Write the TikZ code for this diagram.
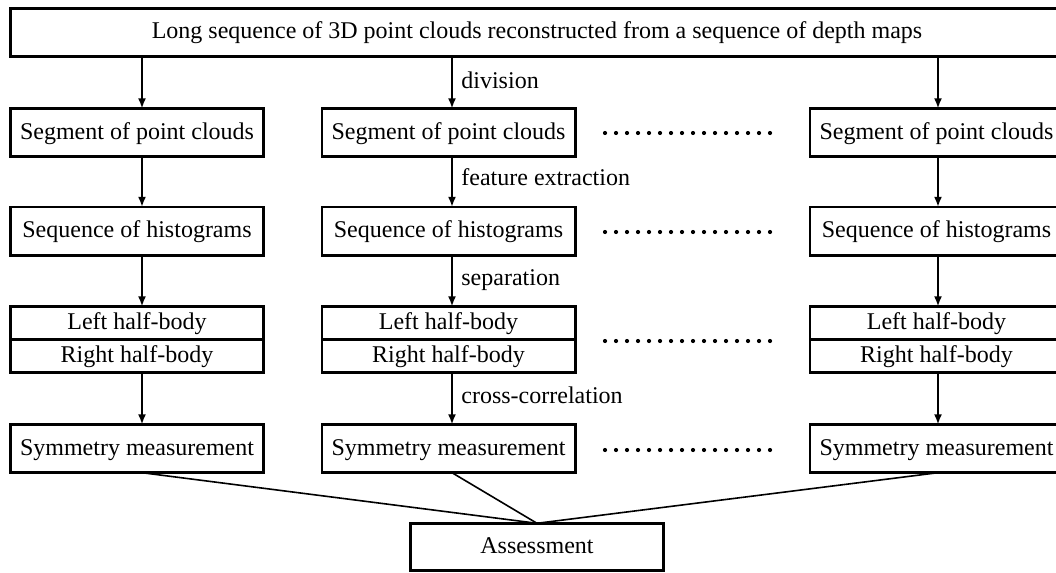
\documentclass[tikz,border=0pt]{standalone}
\usepackage{fontspec}
\setmainfont{Liberation Serif}
\usetikzlibrary{arrows.meta}
\begin{document}
\begin{tikzpicture}[x=0.5pt,y=-0.5pt,
  txt/.style={font=\fontsize{12}{14}\selectfont},
  box/.style={draw, txt, line width=1.3pt, inner sep=1pt, outer sep=0pt,
    text height=0.8em, text depth=0.15em,
    minimum width=126.7pt, minimum height=24.2pt},
  half/.style={box, minimum height=16.6pt},
  arr/.style={-{Latex[length=5pt,width=4pt]}, line width=0.8pt},
  link/.style={line width=0.8pt},
  lbl/.style={txt, anchor=base west, inner sep=0pt}]
\useasboundingbox (0,0) rectangle (1056,573);

% source of all segments
\node[box, minimum width=526.8pt] (seq) at (537,32.5)
  {Long sequence of 3D point clouds reconstructed from a sequence of depth maps};

% three processing columns
\foreach \c/\x/\ax in {1/137/142, 2/448.5/452, 3/936.5/938} {
  \coordinate (ax\c) at (\ax,0);
  \node[box]  (seg\c) at (\x,132.5) {Segment of point clouds};
  \node[box]  (his\c) at (\x,231)   {Sequence of histograms};
  \node[half] (lh\c)  at (\x,322.9) {Left half-body};
  \node[half] (rh\c)  at (\x,356.1) {Right half-body};
  \node[box]  (sym\c) at (\x,448.5) {Symmetry measurement};
  \draw[arr] (seq.south -| ax\c) -- (seg\c.north -| ax\c);
  \draw[arr] (seg\c.south -| ax\c) -- (his\c.north -| ax\c);
  \draw[arr] (his\c.south -| ax\c) -- (lh\c.north -| ax\c);
  \draw[arr] (rh\c.south -| ax\c) -- (sym\c.north -| ax\c);
}

\node[box, minimum height=23.7pt] (ass) at (537,547) {Assessment};
\foreach \c in {1,2,3}
  \draw[link] (sym\c.south -| ax\c) -- (ass.north);

% step labels on the middle column
\node[lbl] (ldiv) at (461,88)  {division};
\node[lbl] (lfea) at (461,185) {feature extraction};
\node[lbl] (lsep) at (461,285) {separation};
\node[lbl] (lcc)  at (461,403) {cross-correlation};

% ellipsis between the middle and right columns
\foreach \y in {133,232,341,450}
  \foreach \i in {0,...,15}
    \fill (605+11*\i,\y) circle (2.1);
\end{tikzpicture}
\end{document}
